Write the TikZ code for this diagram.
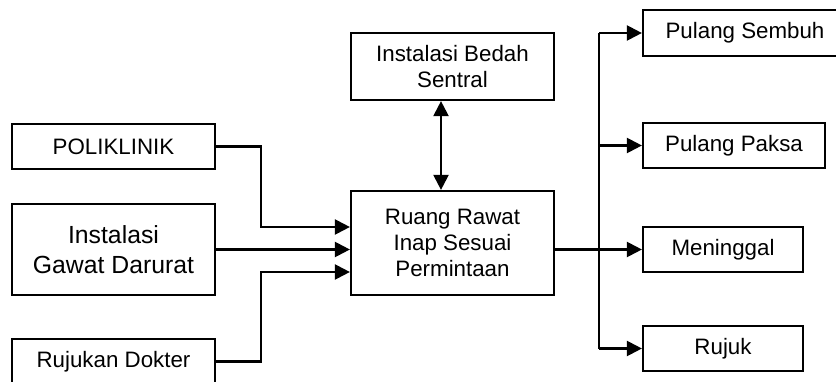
\documentclass[tikz,border=0pt]{standalone}
\usepackage{fontspec}
\setmainfont{Liberation Sans}
\usetikzlibrary{arrows.meta}

\begin{document}
\begin{tikzpicture}[line width=1.25pt,
  box/.style={draw,align=center,inner sep=0pt,minimum height=0.9cm,
    font=\fontsize{12.7}{14.6}\selectfont},
  arr/.style={-{Triangle[length=0.3cm,width=0.3cm]}},
  biarr/.style={{Triangle[length=0.3cm,width=0.3cm]}-{Triangle[length=0.3cm,width=0.3cm]}}]
  \useasboundingbox (0,0) rectangle (16.72,7.62);
  % asal pasien
  \node[box,minimum width=4.06cm] (poli) at (2.27,4.69) {POLIKLINIK};
  \node[box,minimum width=4.06cm,minimum height=1.82cm,
    font=\fontsize{14.1}{17.2}\selectfont] (igd) at (2.27,2.63) {Instalasi\\Gawat Darurat};
  \node[box,minimum width=4.06cm] (rujukan) at (2.27,0.39) {Rujukan Dokter};
  % ruang rawat dan bedah
  \node[box,minimum width=4.06cm,minimum height=2.08cm] (ruang) at (9.05,2.76) {Ruang Rawat\\Inap Sesuai\\Permintaan};
  \node[box,minimum width=4.06cm,minimum height=1.34cm] (bedah) at (9.05,6.29) {Instalasi Bedah\\Sentral};
  % keluar
  \node[box,minimum width=4.08cm,minimum height=0.92cm] (sembuh) at (14.90,6.96) {Pulang Sembuh};
  \node[box,minimum width=3.64cm] (paksa) at (14.68,4.71) {Pulang Paksa};
  \node[box,minimum width=3.2cm] (meninggal) at (14.46,2.63) {Meninggal};
  \node[box,minimum width=3.2cm] (rujuk) at (14.46,0.65) {Rujuk};
  % panah masuk
  \draw[arr] (poli.east) -- ++(0.9,0) |- ([yshift=0.32cm]ruang.west);
  \draw[arr] (igd.east) -- (igd.east -| ruang.west);
  \draw[arr] (rujukan.east) -- ++(0.9,0) |- ([yshift=-0.58cm]ruang.west);
  \draw[biarr] ([xshift=-0.23cm]bedah.south) -- ([xshift=-0.23cm]ruang.north);
  % panah keluar
  \coordinate (trunk) at (11.98,0);
  \draw[arr] (ruang.east |- meninggal.west) -- (meninggal.west);
  \draw (trunk |- sembuh.west) -- (trunk |- rujuk.west);
  \foreach \n in {sembuh,paksa,rujuk}
    \draw[arr] (trunk |- \n.west) -- (\n.west);
\end{tikzpicture}
\end{document}
